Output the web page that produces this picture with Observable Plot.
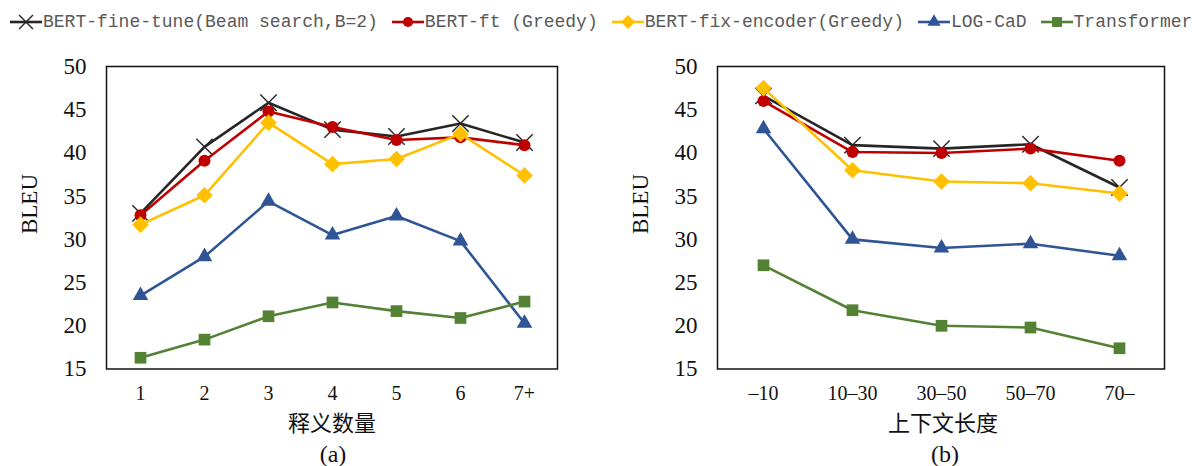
<!DOCTYPE html>
<html>
<head>
<meta charset="utf-8">
<script src="https://cdn.jsdelivr.net/npm/d3@7"></script>
<script src="https://cdn.jsdelivr.net/npm/@observablehq/plot@0.6"></script>
<style>
  html, body { margin: 0; padding: 0; background: #fff; }
  #root { position: relative; width: 1192px; height: 466px; overflow: hidden; background: #fff; }
  #legend { position: absolute; left: 10px; top: 12px; display: flex; align-items: center; gap: 14px;
    font-family: "Liberation Mono", monospace; font-size: 18px; color: #595959; white-space: pre; }
  .item { display: flex; align-items: center; }
  .item svg { display: block; margin-right: 1px; }
  .panel { position: absolute; top: 40px; }
  .title { position: absolute; transform: translateX(-50%); white-space: nowrap; color: #111; }
  .xt { top: 407px; font-family: "Noto Sans CJK SC", sans-serif; font-size: 22px; line-height: 28px; }
  .cap { top: 440px; font-family: "Liberation Serif", serif; font-size: 24px; line-height: 28px; }
  .yl { position: absolute; font-family: "Liberation Serif", serif; font-size: 23px; color: #111;
    transform: translate(-50%, -50%) rotate(-90deg); white-space: nowrap; }
</style>
</head>
<body>
<div id="root">
  <div id="legend"></div>
  <div class="panel" id="pa" style="left:0px"></div>
  <div class="panel" id="pb" style="left:596px"></div>
  <div class="yl" style="left:30px; top:204px">BLEU</div>
  <div class="yl" style="left:641px; top:204px">BLEU</div>
  <div class="title xt" style="left:332px">释义数量</div>
  <div class="title xt" style="left:943px">上下文长度</div>
  <div class="title cap" style="left:333px">(a)</div>
  <div class="title cap" style="left:945px">(b)</div>
</div>
<script>
// ---- data ----
const seriesNames = ["BERT-fine-tune(Beam search,B=2)", "BERT-ft (Greedy)", "BERT-fix-encoder(Greedy)", "LOG-CaD", "Transformer"];
const seriesColors = ["#262626", "#C00000", "#FFC000", "#2F5597", "#548235"];
const seriesSymbols = ["times", "circle", "diamond2", "triangle", "square"];
const seriesR = [7.5, 6, 7.5, 5.8, 6.6];

const catsA = ["1", "2", "3", "4", "5", "6", "7+"];
const beamA = [33.0, 40.7, 45.8, 42.7, 41.9, 43.4, 41.2];
const ftA   = [32.8, 39.1, 44.8, 43.0, 41.5, 41.8, 40.9];
const fixA  = [31.7, 35.1, 43.5, 38.7, 39.3, 42.2, 37.4];
const logA  = [23.5, 28.0, 34.4, 30.5, 32.7, 29.8, 20.3];
const trA   = [16.3, 18.4, 21.1, 22.7, 21.7, 20.9, 22.8];

const catsB = ["\u201310", "10\u201330", "30\u201350", "50\u201370", "70\u2013"];
const beamB = [46.6, 40.9, 40.5, 41.0, 36.0];
const ftB   = [46.0, 40.1, 40.0, 40.5, 39.1];
const fixB  = [47.5, 38.0, 36.7, 36.5, 35.3];
const logB  = [42.8, 30.0, 29.0, 29.5, 28.1];
const trB   = [27.0, 21.8, 20.0, 19.8, 17.4];

const yTicks = [15, 20, 25, 30, 35, 40, 45, 50];

function toRows(cats, arrays) {
  const rows = [];
  arrays.forEach((vals, si) => vals.forEach((v, i) => rows.push({cat: cats[i], value: v, series: seriesNames[si]})));
  return rows;
}

function panel(cats, arrays, opts) {
  const rows = toRows(cats, arrays);
  const marks = [];
  seriesNames.forEach((name, si) => {
    const d = rows.filter(r => r.series === name);
    marks.push(Plot.line(d, {x: "cat", y: "value", stroke: seriesColors[si], strokeWidth: 2.6}));
    if (seriesSymbols[si] === "times") {
      marks.push(Plot.dot(d, {x: "cat", y: "value", symbol: "times", r: seriesR[si], stroke: seriesColors[si], strokeWidth: 1.4, fill: "none"}));
    } else {
      marks.push(Plot.dot(d, {x: "cat", y: "value", symbol: seriesSymbols[si], r: seriesR[si], fill: seriesColors[si], stroke: "none"}));
    }
  });
  return Plot.plot({
    width: 596,
    height: 370,
    marginTop: 26,
    marginBottom: 41.5,
    marginLeft: opts.ml,
    marginRight: opts.mr,
    style: {fontFamily: "Liberation Serif, serif", background: "transparent", color: "#111"},
    x: {type: "point", domain: cats, padding: 0.5},
    y: {domain: [15, 50]},
    marks: [
      Plot.axisX({tickSize: 0, tickPadding: 17, fontSize: 20, label: null}),
      Plot.axisY({ticks: yTicks, tickSize: 0, tickPadding: 20, fontSize: 23, label: null}),
      ...marks,
      Plot.frame({stroke: "#111", strokeWidth: 1.5})
    ]
  });
}

document.getElementById("pa").appendChild(panel(catsA, [beamA, ftA, fixA, logA, trA], {ml: 106, mr: 39}));
document.getElementById("pb").appendChild(panel(catsB, [beamB, ftB, fixB, logB, trB], {ml: 121, mr: 28}));

// ---- legend ----
const symMap = {times: d3.symbolTimes, circle: d3.symbolCircle, diamond2: d3.symbolDiamond2, triangle: d3.symbolTriangle, square: d3.symbolSquare};
const legend = d3.select("#legend");
seriesNames.forEach((name, si) => {
  const it = legend.append("div").attr("class", "item");
  const svg = it.append("svg").attr("width", 32).attr("height", 20);
  svg.append("line").attr("x1", 0).attr("x2", 32).attr("y1", 10).attr("y2", 10)
    .attr("stroke", seriesColors[si]).attr("stroke-width", 2.6);
  const r = seriesR[si] * 0.85;
  const p = svg.append("path").attr("transform", "translate(16,10)")
    .attr("d", d3.symbol(symMap[seriesSymbols[si]], Math.PI * r * r)());
  if (seriesSymbols[si] === "times") p.attr("fill", "none").attr("stroke", seriesColors[si]).attr("stroke-width", 1.4);
  else p.attr("fill", seriesColors[si]);
  it.append("span").text(name);
});
</script>
</body>
</html>
